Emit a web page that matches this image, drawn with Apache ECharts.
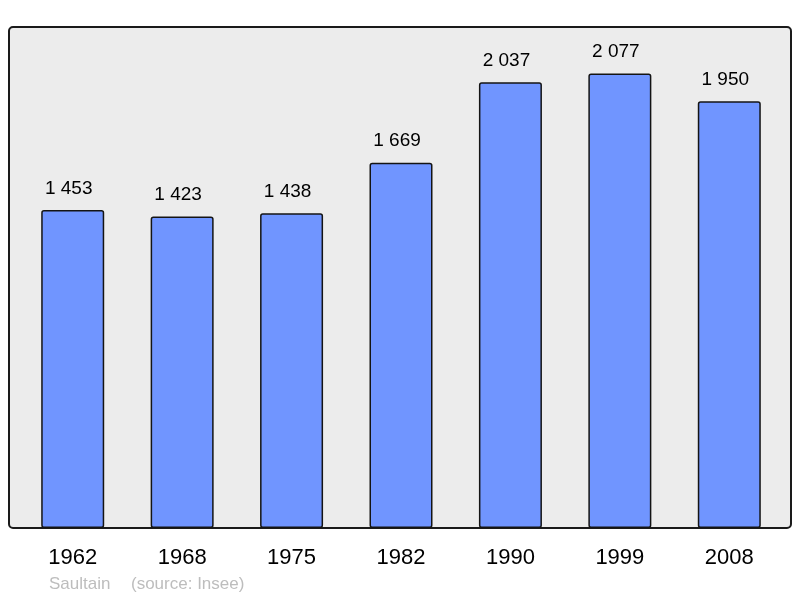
<!DOCTYPE html>
<html>
<head>
<meta charset="utf-8">
<script src="https://cdn.jsdelivr.net/npm/echarts@6/dist/echarts.min.js"></script>
<style>
html, body { margin: 0; padding: 0; background: #fff; }
#chart { width: 800px; height: 598px; }
</style>
</head>
<body>
<div id="chart"></div>
<script>
// données population
var annees = ['1962', '1968', '1975', '1982', '1990', '1999', '2008'];
var population = [1453, 1423, 1438, 1669, 2037, 2077, 1950];
var commune = 'Saultain';
var source = '(source: Insee)';

function espace(n) {
  return String(n).replace(/\B(?=(\d{3})+(?!\d))/g, ' ');
}

var chart = echarts.init(document.getElementById('chart'), null, { renderer: 'canvas' });
chart.setOption({
  backgroundColor: '#fff',
  animation: false,
  grid: { left: 18, right: 16, top: 27, bottom: 70 },
  graphic: [
    {
      type: 'rect', z: -10,
      shape: { x: 9, y: 27, width: 782, height: 501, r: 4 },
      style: { fill: '#ececec', stroke: '#1a1a1a', lineWidth: 2 }
    },
    {
      type: 'text', left: 49, top: 576,
      style: { text: commune, fill: '#bdbdbd', font: '17px "Liberation Sans", Arial, sans-serif' }
    },
    {
      type: 'text', left: 131, top: 576,
      style: { text: source, fill: '#bdbdbd', font: '17px "Liberation Sans", Arial, sans-serif' }
    }
  ],
  xAxis: {
    type: 'category',
    data: annees,
    axisLine: { show: false },
    axisTick: { show: false },
    axisLabel: { color: '#000', fontSize: 22, fontFamily: 'Liberation Sans', margin: 19 }
  },
  yAxis: {
    type: 'value', min: 0, max: 2289,
    show: false,
    splitLine: { show: false }
  },
  series: [{
    type: 'bar',
    data: population,
    barWidth: 63,
    itemStyle: { color: '#7095ff', borderColor: '#141414', borderWidth: 1.5, borderRadius: 2 },
    label: {
      show: true, position: 'top', distance: 12, offset: [-4, 0],
      color: '#000', fontSize: 19, fontFamily: 'Liberation Sans',
      formatter: function (p) { return espace(p.value); }
    }
  }]
});
</script>
</body>
</html>
